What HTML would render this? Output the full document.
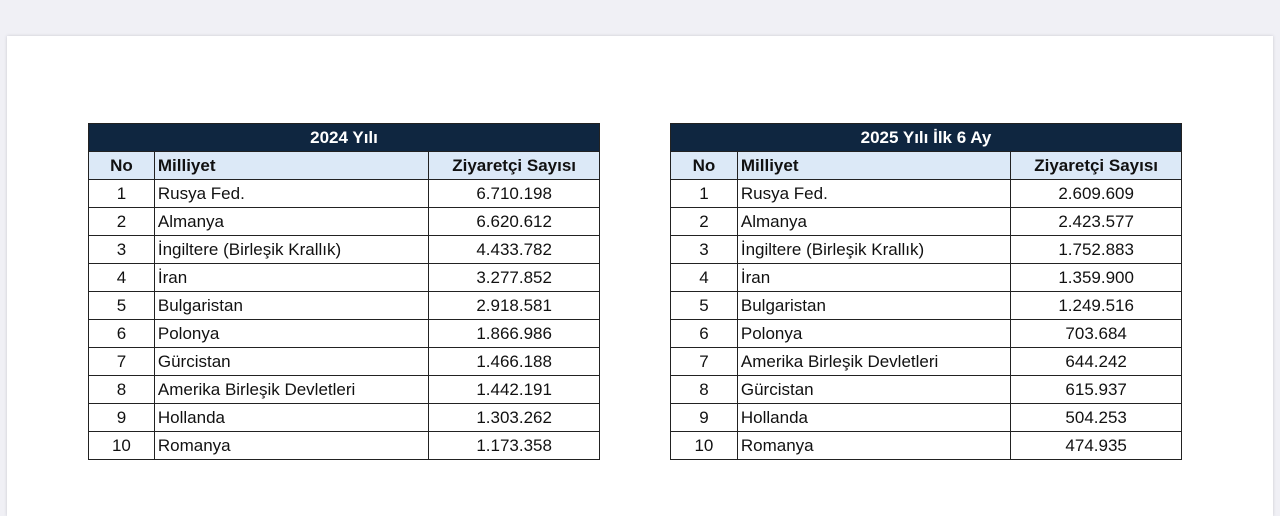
<!DOCTYPE html>
<html><head><meta charset="utf-8"><style>
body{margin:0;width:1280px;height:505px;background:#f0f0f5;position:relative;overflow:hidden;font-family:"Liberation Sans",Arial,sans-serif;}
.page{position:absolute;left:7px;top:36px;width:1266px;height:480px;background:#fff;box-shadow:0 0 3px #c8c8d0;}
table{position:absolute;top:123px;border-collapse:collapse;font-size:17px;color:#111;}
td{border:1px solid #222;height:27px;padding:0 3px;line-height:27px;}
.h td{background:#0f2640;color:#fff;font-weight:bold;text-align:center;height:27px;}
.s td{background:#dce9f7;font-weight:bold;}
.c{text-align:center}
</style></head><body>
<div class="page"></div>
<table style="left:88px;width:512px">
<colgroup><col style="width:66px"><col style="width:275px"><col style="width:171px"></colgroup>
<tr class="h"><td colspan="3">2024 Yılı</td></tr>
<tr class="s"><td class="c">No</td><td>Milliyet</td><td class="c">Ziyaretçi Sayısı</td></tr>
<tr><td class="c">1</td><td>Rusya Fed.</td><td class="c">6.710.198</td></tr>
<tr><td class="c">2</td><td>Almanya</td><td class="c">6.620.612</td></tr>
<tr><td class="c">3</td><td>İngiltere (Birleşik Krallık)</td><td class="c">4.433.782</td></tr>
<tr><td class="c">4</td><td>İran</td><td class="c">3.277.852</td></tr>
<tr><td class="c">5</td><td>Bulgaristan</td><td class="c">2.918.581</td></tr>
<tr><td class="c">6</td><td>Polonya</td><td class="c">1.866.986</td></tr>
<tr><td class="c">7</td><td>Gürcistan</td><td class="c">1.466.188</td></tr>
<tr><td class="c">8</td><td>Amerika Birleşik Devletleri</td><td class="c">1.442.191</td></tr>
<tr><td class="c">9</td><td>Hollanda</td><td class="c">1.303.262</td></tr>
<tr><td class="c">10</td><td>Romanya</td><td class="c">1.173.358</td></tr>
</table>
<table style="left:670px;width:512px">
<colgroup><col style="width:67px"><col style="width:274px"><col style="width:171px"></colgroup>
<tr class="h"><td colspan="3">2025 Yılı İlk 6 Ay</td></tr>
<tr class="s"><td class="c">No</td><td>Milliyet</td><td class="c">Ziyaretçi Sayısı</td></tr>
<tr><td class="c">1</td><td>Rusya Fed.</td><td class="c">2.609.609</td></tr>
<tr><td class="c">2</td><td>Almanya</td><td class="c">2.423.577</td></tr>
<tr><td class="c">3</td><td>İngiltere (Birleşik Krallık)</td><td class="c">1.752.883</td></tr>
<tr><td class="c">4</td><td>İran</td><td class="c">1.359.900</td></tr>
<tr><td class="c">5</td><td>Bulgaristan</td><td class="c">1.249.516</td></tr>
<tr><td class="c">6</td><td>Polonya</td><td class="c">703.684</td></tr>
<tr><td class="c">7</td><td>Amerika Birleşik Devletleri</td><td class="c">644.242</td></tr>
<tr><td class="c">8</td><td>Gürcistan</td><td class="c">615.937</td></tr>
<tr><td class="c">9</td><td>Hollanda</td><td class="c">504.253</td></tr>
<tr><td class="c">10</td><td>Romanya</td><td class="c">474.935</td></tr>
</table>
</body></html>
